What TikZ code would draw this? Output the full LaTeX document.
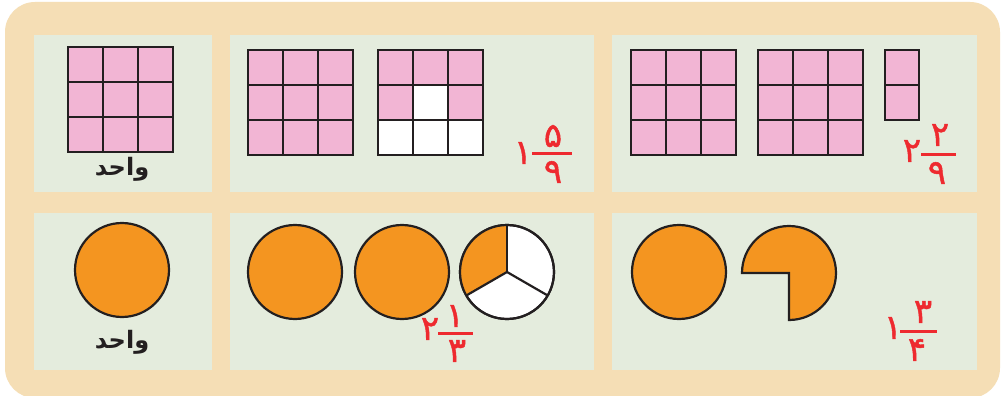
\documentclass[tikz,border=0pt]{standalone}
\usepackage{fontspec}
\newfontfamily\arabicfont[Script=Arabic]{DejaVu Sans}
\newfontfamily\digfont[Script=Arabic,FakeBold=1.3]{DejaVu Sans}
\TeXXeTstate=1
\definecolor{tanc}{HTML}{F5DEB5}
\definecolor{panelc}{HTML}{E4ECDD}
\definecolor{pinkc}{HTML}{F2B5D4}
\definecolor{orangec}{HTML}{F49520}
\definecolor{redc}{HTML}{EE2A2F}
\definecolor{linec}{HTML}{231F20}
\begin{document}
\begin{tikzpicture}[x=1pt,y=-1pt,
  panel/.style={fill=panelc},
  cell/.style={draw=linec, line width=1.2pt, fill=pinkc},
  wcell/.style={draw=linec, line width=1.2pt, fill=white},
  disc/.style={draw=linec, line width=2.2pt, fill=orangec},
  wdisc/.style={draw=linec, line width=2.2pt, fill=white},
  word/.style={text=linec, inner sep=0pt, font=\arabicfont\bfseries\fontsize{24}{24}\selectfont},
  dig/.style={text=redc, inner sep=0pt, font=\digfont\fontsize{34}{34}\selectfont},
  fbar/.style={draw=redc, line width=3pt}]
\useasboundingbox (0,0) rectangle (1002,396);
\fill[white] (0,0) rectangle (1002,396);
\fill[tanc, rounded corners=30pt] (5,2) rectangle (1000,398);
% panels
\fill[panel] (34,35) rectangle (212,192);
\fill[panel] (230,35) rectangle (594,192);
\fill[panel] (612,35) rectangle (977,192);
\fill[panel] (34,213) rectangle (212,370);
\fill[panel] (230,213) rectangle (594,370);
\fill[panel] (612,213) rectangle (977,370);
% grids
\foreach \x in {68} \foreach \i in {0,1,2} \foreach \j in {0,1,2}
  \draw[cell] ({\x+35*\i},{47+35*\j}) rectangle ++(35,35);
\foreach \x in {248,631,758} \foreach \i in {0,1,2} \foreach \j in {0,1,2}
  \draw[cell] ({\x+35*\i},{50+35*\j}) rectangle ++(35,35);
\foreach \i in {0,1,2} \draw[cell] ({378+35*\i},50) rectangle ++(35,35);
\draw[cell] (378,85) rectangle ++(35,35);
\draw[wcell] (413,85) rectangle ++(35,35);
\draw[cell] (448,85) rectangle ++(35,35);
\foreach \i in {0,1,2} \draw[wcell] ({378+35*\i},120) rectangle ++(35,35);
\foreach \j in {0,1} \draw[cell] (885,{50+35*\j}) rectangle ++(34,35);
% discs
\draw[disc] (122,270) circle (47);
\draw[disc] (295,272) circle (47);
\draw[disc] (402,272) circle (47);
\draw[wdisc] (507,272) circle (47);
\fill[orangec] (507,272) -- ++(150:47) arc[start angle=150, end angle=270, radius=47] -- cycle;
\draw[linec, line width=2.2pt] (507,272) circle (47);
\draw[linec, line width=2.2pt] (507,272) -- ++(270:47);
\draw[linec, line width=2.2pt] (507,272) -- ++(150:47);
\draw[linec, line width=2.2pt] (507,272) -- ++(30:47);
\draw[disc] (679,272) circle (47);
\draw[disc, line join=miter] (789,273) -- ++(-47,0) arc[start angle=180, end angle=450, radius=47] -- cycle;
% words
\node[word] (w1) at (122,169) {\beginR واحد\endR};
\node[word] (w2) at (122,342) {\beginR واحد\endR};
% fraction 1 5/9
\node[dig] (a0) at (523,153) {۱};
\node[dig] (a1) at (553,136) {۵};
\node[dig] (a2) at (553,172) {۹};
\draw[fbar] (532,153) -- (572,153);
% fraction 2 2/9
\node[dig] (b0) at (912,151) {۲};
\node[dig] (b1) at (940,135) {۲};
\node[dig] (b2) at (937,173) {۹};
\draw[fbar] (921,154) -- (956,154);
% fraction 2 1/3
\node[dig] (c0) at (430,329) {۲};
\node[dig] (c1) at (455,316) {۱};
\node[dig] (c2) at (457,351) {۳};
\draw[fbar] (438,333) -- (473,333);
% fraction 1 3/4
\node[dig] (d0) at (893,328) {۱};
\node[dig] (d1) at (923,312) {۳};
\node[dig] (d2) at (917,350) {۴};
\draw[fbar] (900,331) -- (937,331);
\end{tikzpicture}
\end{document}
